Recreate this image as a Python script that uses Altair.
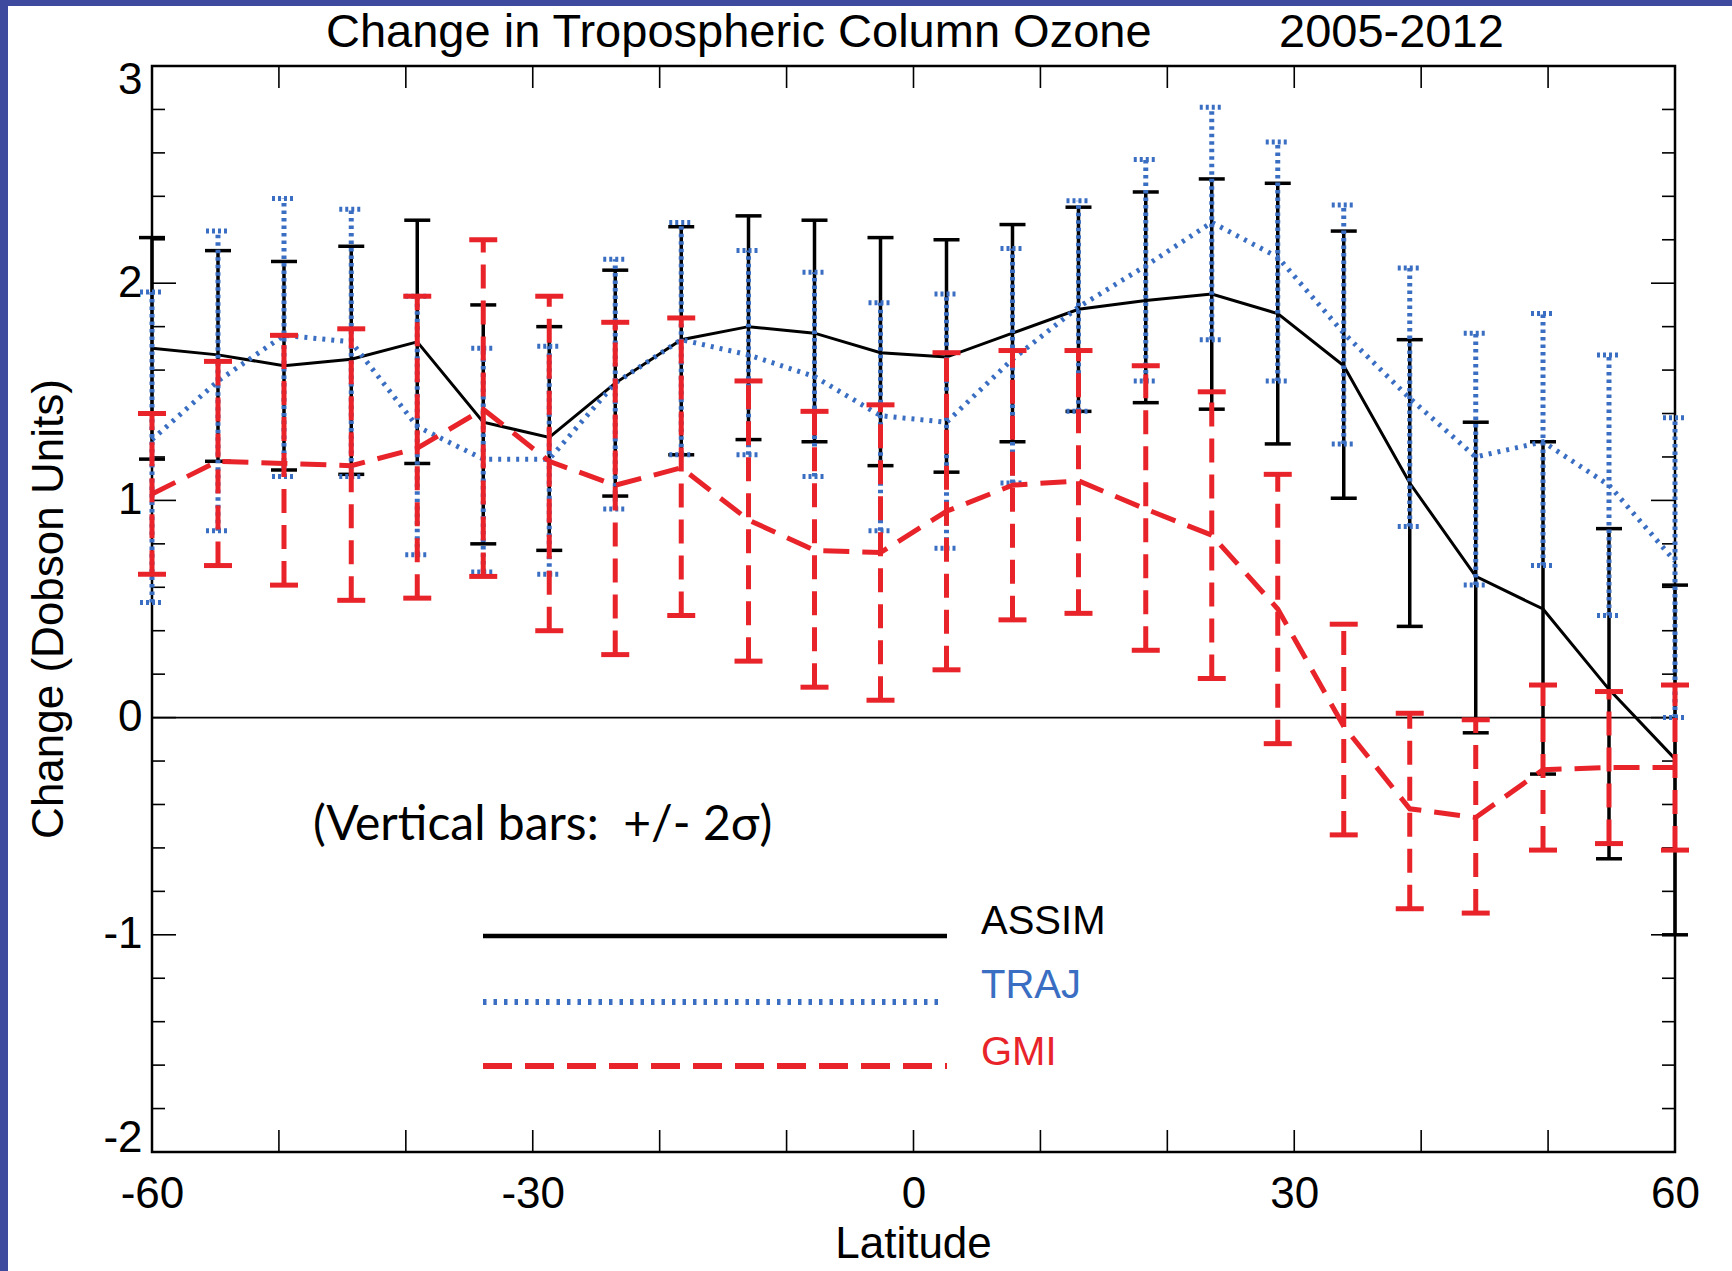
import altair as alt
import pandas as pd

# Latitude bin centres (degrees)
lat = [-60.0, -54.8, -49.6, -44.3, -39.1, -33.9, -28.7, -23.5, -18.3, -13.0, -7.8, -2.6,
       2.6, 7.8, 13.0, 18.3, 23.5, 28.7, 33.9, 39.1, 44.3, 49.6, 54.8, 60.0]

# ASSIM: change and +/- 2 sigma bounds (Dobson Units)
assim = [1.70, 1.67, 1.62, 1.65, 1.73, 1.36, 1.29, 1.54, 1.74, 1.80, 1.77, 1.68,
         1.66, 1.77, 1.88, 1.92, 1.95, 1.86, 1.62, 1.08, 0.65, 0.50, 0.13, -0.19]
assim_lo = [1.19, 1.18, 1.14, 1.12, 1.17, 0.80, 0.77, 1.02, 1.21, 1.28, 1.27, 1.16,
            1.13, 1.27, 1.41, 1.45, 1.42, 1.26, 1.01, 0.42, -0.07, -0.26, -0.65, -1.00]
assim_hi = [2.21, 2.15, 2.10, 2.17, 2.29, 1.90, 1.80, 2.06, 2.26, 2.31, 2.29, 2.21,
            2.20, 2.27, 2.35, 2.42, 2.48, 2.46, 2.24, 1.74, 1.36, 1.27, 0.87, 0.61]

# TRAJ
traj = [1.28, 1.55, 1.76, 1.73, 1.34, 1.19, 1.19, 1.54, 1.74, 1.67, 1.57, 1.39,
        1.36, 1.65, 1.89, 2.08, 2.28, 2.12, 1.77, 1.47, 1.20, 1.27, 1.07, 0.72]
traj_lo = [0.53, 0.86, 1.11, 1.11, 0.75, 0.67, 0.66, 0.96, 1.21, 1.21, 1.11, 0.86,
           0.78, 1.08, 1.41, 1.55, 1.74, 1.55, 1.26, 0.88, 0.61, 0.70, 0.47, 0.00]
traj_hi = [1.96, 2.24, 2.39, 2.34, 1.94, 1.70, 1.71, 2.11, 2.28, 2.15, 2.05, 1.91,
           1.95, 2.16, 2.38, 2.57, 2.81, 2.65, 2.36, 2.07, 1.77, 1.86, 1.67, 1.38]

# GMI
gmi = [1.03, 1.18, 1.17, 1.16, 1.24, 1.42, 1.18, 1.07, 1.15, 0.91, 0.77, 0.76,
       0.95, 1.07, 1.09, 0.96, 0.84, 0.50, -0.04, -0.42, -0.46, -0.24, -0.23, -0.23]
gmi_lo = [0.66, 0.70, 0.61, 0.54, 0.55, 0.65, 0.40, 0.29, 0.47, 0.26, 0.14, 0.08,
          0.22, 0.45, 0.48, 0.31, 0.18, -0.12, -0.54, -0.88, -0.90, -0.61, -0.58, -0.61]
gmi_hi = [1.40, 1.64, 1.76, 1.79, 1.94, 2.20, 1.94, 1.82, 1.84, 1.55, 1.41, 1.44,
          1.68, 1.69, 1.69, 1.62, 1.50, 1.12, 0.43, 0.02, -0.01, 0.15, 0.12, 0.15]

x_labels = [-60, -30, 0, 30, 60]
y_labels = [-2, -1, 0, 1, 2, 3]
x_major = [-50, -40, -30, -20, -10, 0, 10, 20, 30, 40, 50]
y_minor = [round(-2 + 0.2 * i, 1) for i in range(26) if i % 5 != 0]

BLACK, BLUE, RED = "#000000", "#3a6ec2", "#e8242a"
FONT = "Liberation Sans"
W, H = 1523, 1086

df = pd.DataFrame({
    "lat": lat,
    "assim": assim, "assim_lo": assim_lo, "assim_hi": assim_hi,
    "traj": traj, "traj_lo": traj_lo, "traj_hi": traj_hi,
    "gmi": gmi, "gmi_lo": gmi_lo, "gmi_hi": gmi_hi,
})
one = pd.DataFrame({"k": [0]})

xs = alt.Scale(domain=[-60, 60], nice=False, zero=False)
ys = alt.Scale(domain=[-2, 3], nice=False, zero=False)

# plain hyphen-minus in the tick labels
plain_label = "'' + datum.value"

x_axis = alt.Axis(values=x_labels, labelExpr=plain_label, title=None, ticks=False,
                  domain=False, grid=False, labelFont=FONT, labelFontSize=44,
                  labelColor="black", labelPadding=20, labelFlush=False)
y_axis = alt.Axis(values=y_labels, labelExpr=plain_label, title=None, ticks=False,
                  domain=False, grid=False, labelFont=FONT, labelFontSize=44,
                  labelColor="black", labelPadding=10, labelFlush=True,
                  labelFlushOffset=8)


def X(field="lat"):
    return alt.X(f"{field}:Q", scale=xs, axis=x_axis)


def Y(field):
    return alt.Y(f"{field}:Q", scale=ys, axis=y_axis)


def series(key, color, line_w, line_dash, bar_w, bar_dash, cap_half, cap_w, cap_dash):
    base = alt.Chart(df)
    line_kw = dict(color=color, strokeWidth=line_w, strokeCap="butt")
    if line_dash:
        line_kw["strokeDash"] = line_dash
    bar_kw = dict(color=color, strokeWidth=bar_w, strokeCap="butt")
    if bar_dash:
        bar_kw["strokeDash"] = bar_dash
    cap_kw = dict(color=color, strokeWidth=cap_w, strokeCap="butt",
                  xOffset=-cap_half, x2Offset=cap_half)
    if cap_dash:
        cap_kw["strokeDash"] = cap_dash
    bars = base.mark_rule(**bar_kw).encode(x=X(), y=Y(f"{key}_lo"), y2=f"{key}_hi:Q")
    cap_hi = base.mark_rule(**cap_kw).encode(x=X(), x2="lat:Q", y=Y(f"{key}_hi"))
    cap_lo = base.mark_rule(**cap_kw).encode(x=X(), x2="lat:Q", y=Y(f"{key}_lo"))
    line = base.mark_line(**line_kw).encode(x=X(), y=Y(key))
    return [bars, cap_hi, cap_lo, line]


assim_layers = series("assim", BLACK, 3, None, 3.5, None, 13, 3.5, None)
traj_layers = series("traj", BLUE, 5, [3, 6], 5, [3.5, 4], 12, 5, [3, 3])
gmi_layers = series("gmi", RED, 5, [26, 13], 5, [24, 12], 14, 5, None)

# zero reference line
zero = alt.Chart(one).mark_rule(color="black", strokeWidth=1.8).encode(
    y=alt.Y(datum=0, scale=ys, axis=y_axis), x=alt.value(0), x2=alt.value(W))

# inward tick marks on all four sides
tick_style = dict(color="black", strokeWidth=1.6)
ty_major = pd.DataFrame({"v": y_labels})
ty_minor = pd.DataFrame({"v": y_minor})
tx_major = pd.DataFrame({"v": x_major})
ticks = [
    alt.Chart(ty_major).mark_rule(**tick_style).encode(
        y=alt.Y("v:Q", scale=ys, axis=y_axis), x=alt.value(0), x2=alt.value(24)),
    alt.Chart(ty_major).mark_rule(**tick_style).encode(
        y=alt.Y("v:Q", scale=ys, axis=y_axis), x=alt.value(W - 24), x2=alt.value(W)),
    alt.Chart(ty_minor).mark_rule(**tick_style).encode(
        y=alt.Y("v:Q", scale=ys, axis=y_axis), x=alt.value(0), x2=alt.value(13)),
    alt.Chart(ty_minor).mark_rule(**tick_style).encode(
        y=alt.Y("v:Q", scale=ys, axis=y_axis), x=alt.value(W - 13), x2=alt.value(W)),
    alt.Chart(tx_major).mark_rule(**tick_style).encode(
        x=alt.X("v:Q", scale=xs, axis=x_axis), y=alt.value(H - 22), y2=alt.value(H)),
    alt.Chart(tx_major).mark_rule(**tick_style).encode(
        x=alt.X("v:Q", scale=xs, axis=x_axis), y=alt.value(0), y2=alt.value(22)),
]

# hand-placed key inside the plot
key_lines = [
    alt.Chart(one).mark_rule(color=BLACK, strokeWidth=4.5, strokeCap="butt").encode(
        x=alt.value(331), x2=alt.value(795), y=alt.value(870)),
    alt.Chart(one).mark_rule(color=BLUE, strokeWidth=6, strokeDash=[3.5, 7],
                             strokeCap="butt").encode(
        x=alt.value(331), x2=alt.value(787), y=alt.value(936)),
    alt.Chart(one).mark_rule(color=RED, strokeWidth=6, strokeDash=[29, 13],
                             strokeCap="butt").encode(
        x=alt.value(331), x2=alt.value(795), y=alt.value(1000)),
]


def label(text, x, y, size, color="black", font=FONT, angle=None, align="left"):
    kw = dict(text=text, font=font, fontSize=size, color=color, align=align,
              baseline="middle")
    if angle is not None:
        kw["angle"] = angle
    return alt.Chart(one).mark_text(**kw).encode(x=alt.value(x), y=alt.value(y))


texts = [
    label("ASSIM", 829, 856, 40, BLACK),
    label("TRAJ", 829, 920, 40, BLUE),
    label("GMI", 829, 987, 40, RED),
    label("(Vertical bars:\u00a0 +/- 2σ)", 161, 760, 48, font="Lato"),
    label("Change in Tropospheric Column Ozone", 174, -33, 47),
    label("2005-2012", 1127, -33, 47),
    label("Latitude", W / 2, 1179, 44, align="center"),
    label("Change (Dobson Units)", -102, H / 2, 44, angle=270, align="center"),
]

# dark blue strips along the left and top edges of the figure
frame_color = "#3d4a9e"
edges = [
    alt.Chart(one).mark_rect(color=frame_color).encode(
        x=alt.value(-152), x2=alt.value(-144), y=alt.value(-66), y2=alt.value(1205)),
    alt.Chart(one).mark_rect(color=frame_color).encode(
        x=alt.value(-152), x2=alt.value(1580), y=alt.value(-66), y2=alt.value(-60)),
]

chart = alt.layer(
    *ticks, zero, *assim_layers, *traj_layers, *gmi_layers, *key_lines, *texts, *edges
).properties(
    width=W, height=H,
    autosize=alt.AutoSizeParams(type="none"),
    padding={"left": 152, "top": 66, "right": 57, "bottom": 119},
    background="white",
).configure_view(
    stroke="black", strokeWidth=2.5
)

chart.save("out.html", embed_options={"renderer": "svg", "actions": False})
